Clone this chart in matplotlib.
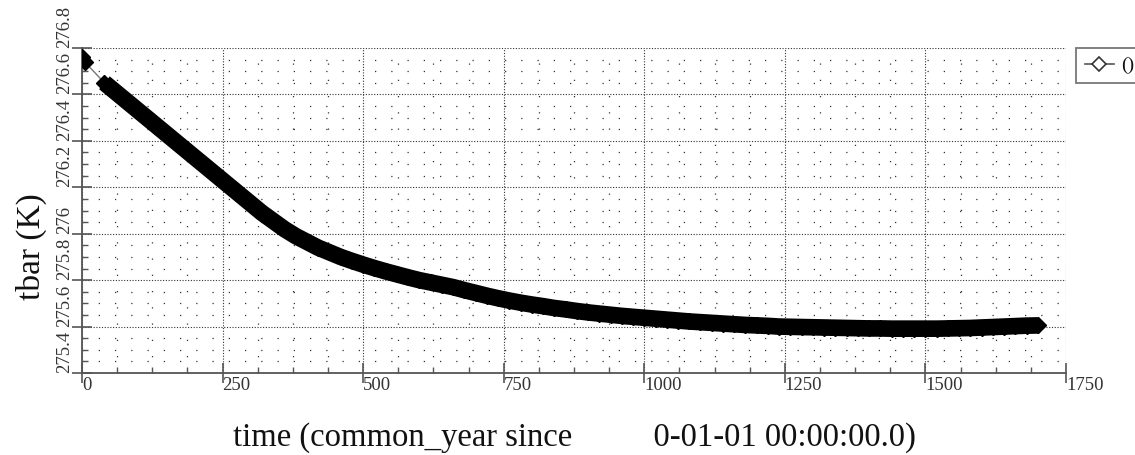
import matplotlib
matplotlib.use('Agg')
import matplotlib.pyplot as plt
from matplotlib.lines import Line2D
from matplotlib.ticker import MultipleLocator

# annual-mean tbar from the spin-up run (model years since 0-01-01)
YEARS = [0, 5,
         40, 60, 80, 100, 120, 140, 160, 180, 200, 220,
         240, 260, 280, 300, 320, 340, 360, 380, 400, 420,
         440, 460, 480, 500, 520, 540, 560, 580, 600, 620,
         640, 660, 680, 700, 720, 740, 760, 780, 800, 820,
         840, 860, 880, 900, 920, 940, 960, 980, 1000, 1020,
         1040, 1060, 1080, 1100, 1120, 1140, 1160, 1180, 1200, 1220,
         1240, 1260, 1280, 1300, 1320, 1340, 1360, 1380, 1400, 1420,
         1440, 1460, 1480, 1500, 1520, 1540, 1560, 1580, 1600, 1620,
         1640, 1660, 1680, 1700]
TBAR = [276.76, 276.74,
        276.65, 276.61, 276.57, 276.53, 276.49, 276.45, 276.41, 276.37, 276.33, 276.29,
        276.25, 276.21, 276.17, 276.13, 276.09, 276.055, 276.02, 275.99, 275.965, 275.94,
        275.92, 275.90, 275.883, 275.867, 275.852, 275.838, 275.825, 275.812, 275.80, 275.79,
        275.78, 275.77, 275.757, 275.745, 275.733, 275.722, 275.712, 275.703, 275.695, 275.688,
        275.68, 275.674, 275.667, 275.661, 275.656, 275.651, 275.646, 275.642, 275.638, 275.634,
        275.63, 275.626, 275.622, 275.619, 275.616, 275.613, 275.61, 275.607, 275.605, 275.603,
        275.60, 275.599, 275.598, 275.597, 275.596, 275.595, 275.594, 275.593, 275.592, 275.592,
        275.591, 275.591, 275.591, 275.591, 275.591, 275.592, 275.593, 275.594, 275.596, 275.598,
        275.60, 275.602, 275.604, 275.605]

X_MAJOR = [0, 250, 500, 750, 1000, 1250, 1500, 1750]
Y_MAJOR = [275.4, 275.6, 275.8, 276.0, 276.2, 276.4, 276.6, 276.8]
Y_LABELS = ['275.4', '275.6', '275.8', '276', '276.2', '276.4', '276.6', '276.8']

INK = '#111111'
AXIS = '#555555'
GRID = '#333333'

plt.rcParams.update({
    'font.family': ['Liberation Serif', 'DejaVu Serif'],
    'text.color': INK,
})

fig = plt.figure(figsize=(11.35, 4.55), dpi=100)
ax = fig.add_axes([0.0722, 0.1802, 0.8670, 0.7143])

# thin connecting line + markers; the dense run reads as one solid band
ax.plot(YEARS, TBAR, color='#777777', lw=1.0, zorder=3)
ax.plot(YEARS[2:], TBAR[2:], color='black', lw=12,
        solid_capstyle='butt', zorder=4)
ax.plot(YEARS, TBAR, ls='none', marker='D', ms=8.5, mfc='black',
        mec='black', mew=1.0, zorder=5)

ax.set_xlim(0, 1750)
ax.set_ylim(275.4, 276.8)
ax.set_xticks(X_MAJOR)
ax.set_xticklabels([str(v) for v in X_MAJOR])
ax.set_yticks(Y_MAJOR)
ax.set_yticklabels(Y_LABELS)
ax.xaxis.set_minor_locator(MultipleLocator(62.5))
ax.yaxis.set_minor_locator(MultipleLocator(0.05))

ax.grid(which='major', color=GRID, lw=0.8, ls=(0, (1, 1.5)))
ax.grid(which='minor', color=GRID, lw=0.9, ls=(0, (1, 12)))
ax.set_axisbelow(True)

for side in ('top', 'right'):
    ax.spines[side].set_visible(False)
for side in ('left', 'bottom'):
    ax.spines[side].set_color(AXIS)
    ax.spines[side].set_linewidth(1.3)

ax.tick_params(which='major', direction='inout', length=14, width=1.2,
               color=AXIS, labelsize=13.5, labelcolor='#333333')
ax.tick_params(which='minor', direction='in', length=4.5, width=1.0,
               color=AXIS)
ax.tick_params(axis='x', which='major', pad=-4)
ax.tick_params(axis='y', which='major', pad=-1)

for lab in ax.get_xticklabels():
    lab.set_horizontalalignment('left')
for lab in ax.get_yticklabels():
    lab.set_rotation(90)
    lab.set_verticalalignment('bottom')
    lab.set_horizontalalignment('right')

ax.set_xlabel('time (common_year since          0-01-01 00:00:00.0)',
              fontsize=23.5, color=INK)
ax.xaxis.set_label_coords(0.5, -0.15)
ax.set_ylabel('tbar (K)', fontsize=24, color=INK)
ax.yaxis.set_label_coords(-0.036, 0.39)

handle = Line2D([], [], color=AXIS, lw=1.2, marker='D', ms=7,
                mfc='white', mec='#333333', mew=1.2)
leg = ax.legend([handle], ['()'], loc='upper left',
                bbox_to_anchor=(1.010, 1.0), borderaxespad=0,
                fontsize=14, frameon=True, fancybox=False,
                handlelength=1.5, handletextpad=0.4, borderpad=0.45)
leg.get_frame().set_edgecolor(AXIS)
leg.get_frame().set_linewidth(1.3)

fig.savefig('out.png', dpi=100, facecolor='white')
